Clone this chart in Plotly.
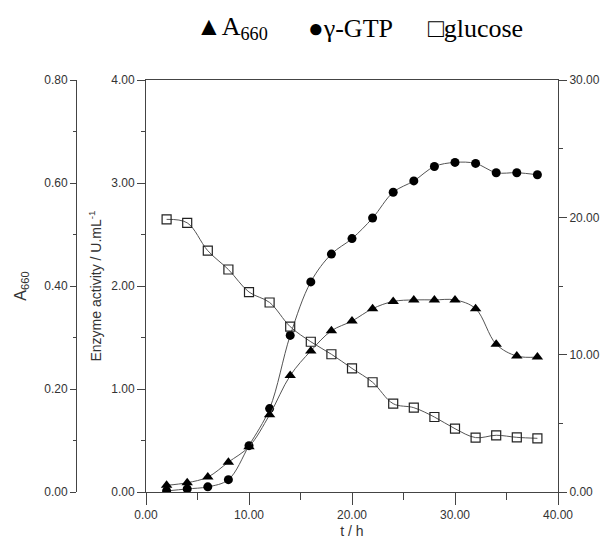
import plotly.graph_objects as go

# ---- data ----
time_h = [2, 4, 6, 8, 10, 12, 14, 16, 18, 20, 22, 24, 26, 28, 30, 32, 34, 36, 38]
a660 = [0.013, 0.018, 0.029, 0.058, 0.088, 0.150, 0.226, 0.274, 0.313, 0.332,
        0.356, 0.370, 0.373, 0.373, 0.373, 0.356, 0.287, 0.264, 0.262]
enzyme = [0.01, 0.03, 0.05, 0.12, 0.45, 0.81, 1.52, 2.04, 2.31, 2.46,
          2.66, 2.91, 3.02, 3.16, 3.20, 3.19, 3.10, 3.10, 3.08]
glucose = [19.85, 19.6, 17.57, 16.2, 14.56, 13.8, 12.04, 10.94, 10.03, 9.0,
           7.99, 6.43, 6.14, 5.46, 4.61, 3.96, 4.13, 3.98, 3.91]

x_ticks = [0, 10, 20, 30, 40]
enzyme_ticks = [0, 1, 2, 3, 4]
a660_ticks = [0, 0.2, 0.4, 0.6, 0.8]
glucose_ticks = [0, 10, 20, 30]

W, H = 605, 539
LEFT, RIGHT, TOP, BOTTOM = 146, 558, 80, 492
FONT = "Liberation Sans"
LINE_COL = "#555555"
AXIS_COL = "#444444"
TXT_COL = "#333333"

fig = go.Figure()

fig.add_trace(go.Scatter(
    x=time_h, y=a660, yaxis="y3", name="A660", mode="lines+markers",
    line=dict(color=LINE_COL, width=1, shape="spline"),
    marker=dict(symbol="triangle-up", size=10, color="black"),
))
fig.add_trace(go.Scatter(
    x=time_h, y=enzyme, yaxis="y", name="γ-GTP", mode="lines+markers",
    line=dict(color=LINE_COL, width=1, shape="spline"),
    marker=dict(symbol="circle", size=9, color="black"),
))
fig.add_trace(go.Scatter(
    x=time_h, y=glucose, yaxis="y2", name="glucose", mode="lines+markers",
    line=dict(color=LINE_COL, width=1, shape="spline"),
    marker=dict(symbol="square-open", size=9, color="#222222", line=dict(width=1.2)),
))

tickfont = dict(family=FONT, size=12, color=TXT_COL)
xd = [LEFT / W, RIGHT / W]
yd = [(H - BOTTOM) / H, (H - TOP) / H]

fig.update_layout(
    width=W, height=H,
    margin=dict(l=0, r=0, t=0, b=0, pad=0, autoexpand=False),
    paper_bgcolor="white", plot_bgcolor="white",
    showlegend=False,
    font=dict(family=FONT, color=TXT_COL),
    xaxis=dict(
        domain=xd, range=[0, 40], tickvals=x_ticks, tickformat=".2f",
        ticks="outside", ticklen=12, tickwidth=1, tickcolor=AXIS_COL,
        minor=dict(dtick=5, tick0=0, ticks="outside", ticklen=7, tickcolor=AXIS_COL),
        showline=True, linecolor=AXIS_COL, linewidth=1, mirror=True,
        showgrid=False, zeroline=False, tickfont=tickfont, automargin=False,
        title=dict(text="t / h", font=dict(family=FONT, size=14, color=TXT_COL), standoff=8),
    ),
    yaxis=dict(
        domain=yd, range=[0, 4], tickvals=enzyme_ticks, tickformat=".2f",
        ticks="outside", ticklen=8, tickwidth=1, tickcolor=AXIS_COL,
        minor=dict(dtick=0.5, tick0=0, ticks="outside", ticklen=4, tickcolor=AXIS_COL),
        showline=True, linecolor=AXIS_COL, linewidth=1,
        showgrid=False, zeroline=False, tickfont=tickfont, automargin=False,
        title=dict(text="Enzyme activity / U.mL<sup>-1</sup>",
                   font=dict(family=FONT, size=14, color=TXT_COL), standoff=6),
    ),
    yaxis2=dict(
        range=[0, 30], tickvals=glucose_ticks, tickformat=".2f",
        overlaying="y", side="right", anchor="x",
        ticks="outside", ticklen=8, tickwidth=1, tickcolor=AXIS_COL,
        minor=dict(dtick=5, tick0=0, ticks="outside", ticklen=4, tickcolor=AXIS_COL),
        showline=True, linecolor=AXIS_COL, linewidth=1,
        showgrid=False, zeroline=False, tickfont=tickfont, automargin=False,
    ),
    yaxis3=dict(
        range=[0, 0.8], tickvals=a660_ticks, tickformat=".2f",
        overlaying="y", side="left", anchor="free", position=76 / W,
        ticks="outside", ticklen=6, tickwidth=1, tickcolor=AXIS_COL,
        minor=dict(dtick=0.1, tick0=0, ticks="outside", ticklen=3, tickcolor=AXIS_COL),
        showline=True, linecolor=AXIS_COL, linewidth=1,
        showgrid=False, zeroline=False, tickfont=tickfont, automargin=False,
        title=dict(text="A<sub>660</sub>", font=dict(family=FONT, size=16, color=TXT_COL), standoff=12),
    ),
)

legend_font = dict(family="Liberation Serif", size=26, color="black")
legend_items = [
    ("▲A<sub>660</sub>", 232),
    ("●γ-GTP", 350),
    ("□glucose", 475),
]
for text, px in legend_items:
    fig.add_annotation(
        x=px / W, y=1 - 28 / H, xref="paper", yref="paper",
        text=text, showarrow=False, font=legend_font,
        xanchor="center", yanchor="middle",
    )

fig.write_html(
    "out.html",
    config={"displayModeBar": False},
    post_script="document.body.style.margin='0';document.body.style.overflow='hidden';",
)
